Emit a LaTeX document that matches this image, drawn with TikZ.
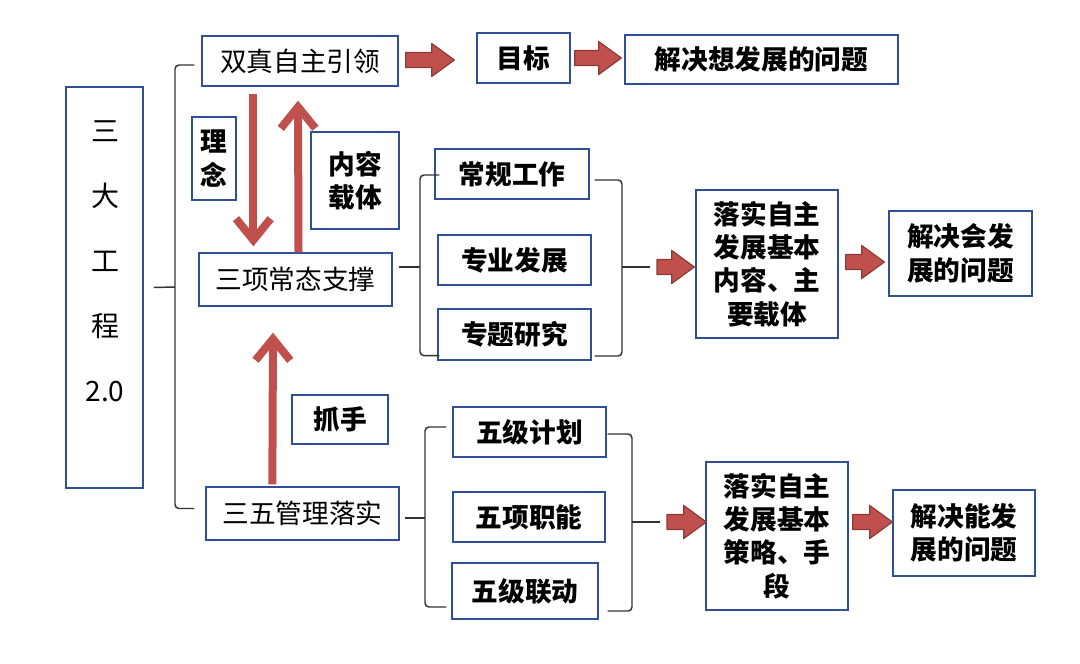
\documentclass[tikz,border=0pt]{standalone}
\usepackage{fontspec}
\setmainfont{Noto Sans CJK SC}
\usepackage{tikz}
\usetikzlibrary{positioning,calc,arrows.meta}

\definecolor{boxblue}{HTML}{2F4F96}
\definecolor{arrowred}{HTML}{C0504D}
\definecolor{arrowedge}{HTML}{8C3A38}

% fat block arrow from #1 (tail) to #2 (tip), drawn level with the tail
\newcommand\fatarrow[2]{%
  \draw[fatarr] let \p1=(#1), \p2=(#2) in
    (\x1,\y1+5.6pt) -- (\x2-17pt,\y1+5.6pt) -- (\x2-17pt,\y1+12.4pt) -- (\x2,\y1)
    -- (\x2-17pt,\y1-12.4pt) -- (\x2-17pt,\y1-5.6pt) -- (\x1,\y1-5.6pt) -- cycle;}

\begin{document}
\begin{tikzpicture}[x=0.75pt,y=-0.75pt,
  box/.style={draw=boxblue, line width=1pt, inner sep=0pt, align=center,
    font=\fontsize{20}{25}\selectfont\bfseries},
  thinbox/.style={box, font=\fontsize{20}{25}\selectfont},
  wh/.style 2 args={minimum width=#1*0.75pt, minimum height=#2*0.75pt},
  brk/.style={draw=black!80, line width=1.1pt, rounded corners=3pt},
  fatarr/.style={draw=arrowedge, fill=arrowred, line width=0.9pt, line join=round},
  vertarr/.style={draw=arrowred, line width=6pt, -{Straight Barb[length=16pt,width=26pt]}}
]
\useasboundingbox (0,0) rectangle (1080,663);

% left column
\node[thinbox, wh={77}{401}] (big) at (104.5,287.5) {};
\node[font=\fontsize{21}{48.75}\selectfont, align=center] (bigtxt) at (105,261) {三\\大\\工\\程\\2.0};

% top row
\node[thinbox, wh={196}{50}] (lead) at (300,61) {双真自主引领};
\node[box, wh={93}{50}] (goal) at (523.5,58) {目标};
\node[box, wh={273}{49}] (sol1) at (761.5,59.5) {解决想发展的问题};
\node[box, wh={44}{83}] (idea) at (214,158.5) {理\\念};
\node[box, wh={88}{97}] (carry) at (355,180.5) {内容\\载体};

% middle row
\node[thinbox, wh={193}{53}] (support) at (295.5,279.5) {三项常态支撑};
\node[box, wh={154}{50}] (work1) at (512,174) {常规工作};
\node[box, wh={153}{50}] (work2) at (514.5,260) {专业发展};
\node[box, wh={153}{51}] (work3) at (514.5,334.5) {专题研究};
\node[box, wh={142}{148}] (res2) at (767,264) {落实自主\\发展基本\\内容、主\\要载体};
\node[box, wh={143}{85}] (sol2) at (960.5,253.5) {解决会发\\展的问题};

% bottom row
\node[box, wh={96}{49}] (grip) at (340,419.5) {抓手};
\node[thinbox, wh={193}{53}] (mgmt) at (302.5,513.5) {三五管理落实};
\node[box, wh={153}{50}] (plan1) at (529.5,432) {五级计划};
\node[box, wh={152}{50}] (plan2) at (529,517) {五项职能};
\node[box, wh={146}{56}] (plan3) at (525,591) {五级联动};
\node[box, wh={142}{148}] (res3) at (777,536) {落实自主\\发展基本\\策略、手\\段};
\node[box, wh={142}{86}] (sol3) at (964,533) {解决能发\\展的问题};

% brackets
\coordinate (bA) at (175,287);
\draw[brk] ($(lead.west)+(-7,4)$) -| (bA) |- ($(mgmt.west)+(-11,-5)$);
\draw[brk] ($(big.east)+(10,0)$) -- (bA);

\coordinate (bB) at (420,267);
\draw[brk] ($(work1.west)+(5,1)$) -| (bB) |- ($(work3.south west)+(2,-5)$);
\draw[brk] ($(support.east)+(6,-12.5)$) -- (bB);
\coordinate (bC) at (622,267);
\draw[brk] ($(work1.east)+(5,6)$) -| (bC) |- ($(work3.east)+(3,21.5)$);
\draw[brk] (bC) -- ++(28,0) coordinate (tC);

\coordinate (bD) at (425,518);
\draw[brk] ($(plan1.west)+(-6,-5)$) -| (bD) |- ($(plan3.west)+(-5,16)$);
\draw[brk] ($(mgmt.east)+(5,4.5)$) -- (bD);
\coordinate (bE) at (632,522);
\draw[brk] ($(plan1.east)+(1,2)$) -| (bE) |- ($(plan3.east)+(9,20)$);
\draw[brk] (bE) -- ++(28,0) coordinate (tE);

% block arrows
\fatarrow{$(lead.east)+(7,-1)$}{$(goal.west)+(-22,0)$}
\fatarrow{$(goal.east)+(4,0)$}{$(sol1.west)+(-3,0)$}
\fatarrow{$(tC)+(7,0)$}{$(res2.west)+(-1,0)$}
\fatarrow{$(res2.east)+(7,-2)$}{$(sol2.west)+(-4,0)$}
\fatarrow{$(tE)+(7,0)$}{$(res3.west)+(1,0)$}
\fatarrow{$(res3.east)+(4,-14)$}{$(sol3.west)+(0,0)$}

% vertical arrows
\draw[vertarr] ($(lead.south west)+(52,7)$) -- ($(support.north west)+(55,-6)$);
\draw[vertarr] ($(support.north)+(3,0)$) -- ($(lead.south)+(-2,14)$);
\draw[vertarr] ($(mgmt.north west)+(67,-2)$) -- ($(support.south)+(-22.5,26)$);
\end{tikzpicture}
\end{document}
